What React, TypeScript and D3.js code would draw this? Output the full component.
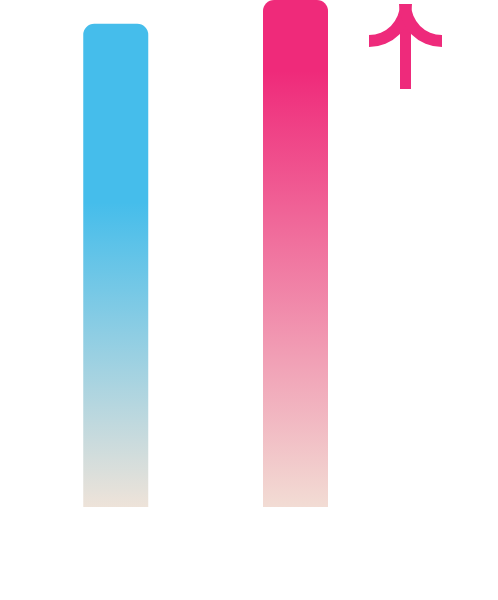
import React from "react";
import * as d3 from "d3";

const categories = ["A", "B"];
const values = [95.3, 100];
const topColors = ["#45BDEB", "#EF2A7A"];
const bottomColors = ["#EEE3D9", "#F2DCD4"];
const solidStops = [0.37, 0.14];

const W = 498;
const H = 600;
const baseY = 507;

export default function App() {
  if (typeof document !== "undefined") document.body.style.margin = "0";
  const x = d3.scalePoint<string>().domain(categories).range([115.75, 295.5]);
  const y = d3.scaleLinear().domain([0, 100]).range([baseY, 0]);
  const bw = 65;
  const r = 11;

  const barPath = (cx: number, top: number) => {
    const p = d3.path();
    const x0 = cx - bw / 2;
    const x1 = cx + bw / 2;
    p.moveTo(x0, baseY);
    p.lineTo(x0, top + r);
    p.arcTo(x0, top, x0 + r, top, r);
    p.lineTo(x1 - r, top);
    p.arcTo(x1, top, x1, top + r, r);
    p.lineTo(x1, baseY);
    p.closePath();
    return p.toString();
  };

  const arcGen = d3.arc<any>().innerRadius(31).outerRadius(43);
  const arrowCx = 405.5;
  const arrowTop = 4;
  const arrowColor = "#EE2A7B";

  return (
    <svg width={W} height={H} style={{ display: "block", position: "absolute", left: 0, top: 0 }}>
      <defs>
        {categories.map((c, i) => (
          <linearGradient key={c} id={`g${i}`} x1="0" y1="0" x2="0" y2="1">
            <stop offset="0" stopColor={topColors[i]} />
            <stop offset={solidStops[i]} stopColor={topColors[i]} />
            <stop offset="1" stopColor={bottomColors[i]} />
          </linearGradient>
        ))}
      </defs>
      {categories.map((c, i) => (
        <path key={c} d={barPath(x(c)!, y(values[i]))} fill={`url(#g${i})`} />
      ))}
      <g fill={arrowColor}>
        <rect x={arrowCx - 5.5} y={arrowTop} width={11} height={89 - arrowTop} />
        <path
          transform={`translate(${arrowCx - 36.5},${arrowTop})`}
          d={arcGen({ startAngle: Math.PI / 2, endAngle: Math.PI })!}
        />
        <path
          transform={`translate(${arrowCx + 36.5},${arrowTop})`}
          d={arcGen({ startAngle: Math.PI, endAngle: (3 * Math.PI) / 2 })!}
        />
      </g>
    </svg>
  );
}
